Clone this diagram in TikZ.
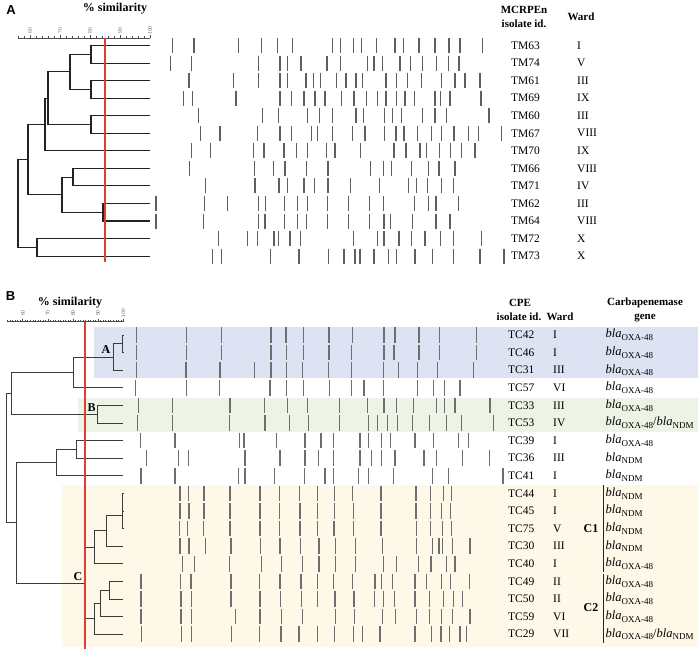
\documentclass[tikz,border=0pt]{standalone}
\usepackage{fontspec}
\setmainfont{Liberation Serif}
\newfontfamily\panelfont{Liberation Sans}
\definecolor{redline}{RGB}{222,62,52}
\definecolor{bgblue}{RGB}{221,227,243}
\definecolor{bggreen}{RGB}{237,244,230}
\definecolor{bgyellow}{RGB}{254,248,233}
\definecolor{bandcol}{RGB}{95,95,95}
\definecolor{bandcolb}{RGB}{110,110,110}
\definecolor{dendcol}{RGB}{35,35,35}
\definecolor{dendcolb}{RGB}{60,60,60}
\newcommand\gsub[1]{\raisebox{-2.8pt}{\fontsize{9}{9}\selectfont #1}}
\newcommand\gbla{{\fontsize{12.5}{13}\selectfont\itshape bla}}
\newcommand\geneO{\gbla\gsub{OXA-48}}
\newcommand\geneN{\gbla\gsub{NDM}}
\newcommand\geneON{\gbla\gsub{OXA-48}{\fontsize{12.5}{13}\selectfont/}\gbla\gsub{NDM}}
\newcommand\brow[3]{\foreach \bx in {#3}{\draw[band] (\bx,#1-#2) -- (\bx,#1+#2);}}
\begin{document}
\begin{tikzpicture}[x=1pt,y=-1pt,
  band/.style={draw=bandcol,line width=1.05pt},
  dend/.style={draw=dendcol,line width=1.05pt},
  redl/.style={draw=redline,line width=1.4pt},
  axisl/.style={draw=black!70,line width=0.5pt},
  ticklbl/.style={font=\fontsize{5.5}{5.5}\selectfont,text=black!60,rotate=90,inner sep=0pt},
  lbl/.style={font=\fontsize{11.5}{12}\selectfont,anchor=west,inner sep=0pt},
  hdr/.style={font=\bfseries\fontsize{11}{11}\selectfont,inner sep=0pt},
  sim/.style={font=\bfseries\fontsize{12}{13}\selectfont,inner sep=0pt},
  panel/.style={font=\panelfont\bfseries\fontsize{13}{13}\selectfont,inner sep=0pt},
  clu/.style={font=\bfseries\fontsize{12}{12}\selectfont,inner sep=0pt}]
\useasboundingbox (0,0) rectangle (698,649);

% ---------------- Panel A ----------------
\node[panel] (pA) at (11,10) {A};
\node[sim] (simA) at (115,8.5) {\% similarity};
\draw[axisl] (18,38) -- (150,38);
\foreach \v in {56,58,...,100} \draw[axisl] ({30+(\v-60)*3},38) -- ++(0,-2);
\foreach \v in {60,70,...,100} {\draw[axisl] ({30+(\v-60)*3},38) -- ++(0,-3.5);
  \node[ticklbl] (tA\v) at ({30+(\v-60)*3},30.5) {\v};}

% bands A
\brow{45.5}{7.5}{172.7,194,238.3,261.7,277.3,292.7,332.7,340.7,353.3,361.7,376.7,395,403.3,419,435,449,460,482.7}
\brow{63.05}{7.5}{170.7,191.7,258.3,280,287.3,301,327,340.7,367.3,374,382.7,400,410.7,422.7,436.7,448.3,459}
\brow{80.6}{7.5}{189,233.3,258.3,280,287.7,306,313.3,320.5,336.7,346,356,362.7,386,396.7,407.3,421.7,441.7,455,465,480}
\brow{98.15}{7.5}{183.3,192.7,236,280,291.7,304,315,325,341.7,354,366.7,377.3,386,396.7,405,414.3,435,440.7,450,481}
\brow{115.7}{7.5}{198.3,262.7,278.3,307.3,319.5,332.7,356,363.3,384.3,392.7,401.7,422.7,435,446.7,489}
\brow{133.25}{7.5}{200.7,220,257.3,280,291.7,311.7,317.7,332.7,352.7,365,384.3,396,404,417.7,431.7,441.7,454,468.3,478.3,501.7}
\brow{150.8}{7.5}{191.7,210.7,253.3,264,284,296.7,307.3,326.5,335,360.7,394,406,420,426.7,439.3,450.7,461.7,475}
\brow{168.35}{7.5}{189.3,254.3,273.3,285,306.7,328,370.7,383.3,391.7,411.7,428.3,439,455}
\brow{185.9}{7.5}{205.7,255,279,287.3,304,314.3,328,350.7,379.3,408.3,416.7,427.3,441.7,453.3}
\brow{203.45}{7.5}{156,204.3,227.3,258.3,265.7,284.3,297.7,307.3,327.3,348.3,369.3,383.3,414.3,428.3,436,458.3}
\brow{221}{7.5}{156,203.3,258.3,265,284.3,297.7,306.7,327.3,348.3,369.3,384,390.7,412.3,436,450}
\brow{238.55}{7.5}{218.3,247.7,257.3,274,278.3,290,300.7,353.3,377.3,384,399,411.7,425,440.7,453.3,481.7}
\brow{256.1}{7.5}{212.7,221.7,270.7,299,328.3,344,355,360,374,388.3,396.7,415,432.7,453.3,480,504}

% dendrogram A
\draw[dend] (150,45.5) -- (91,45.5) -- (91,63.05) -- (150,63.05);
\draw[dend] (150,80.6) -- (91,80.6) -- (91,98.15) -- (150,98.15);
\draw[dend] (91,54.275) -- (70,54.275) -- (70,89.375) -- (91,89.375);
\draw[dend] (150,115.7) -- (91,115.7) -- (91,133.25) -- (150,133.25);
\draw[dend] (70,71.825) -- (48,71.825) -- (48,124.475) -- (91,124.475);
\draw[dend] (48,98.15) -- (45,98.15) -- (45,150.8) -- (150,150.8);
\draw[dend] (150,168.35) -- (73,168.35) -- (73,185.9) -- (150,185.9);
\draw[dend] (150,203.45) -- (103,203.45) -- (103,221) -- (150,221);
\draw[dend] (73,177.125) -- (62,177.125) -- (62,212.225) -- (103,212.225);
\draw[dend] (45,124.475) -- (28,124.475) -- (28,194.675) -- (62,194.675);
\draw[dend] (150,238.55) -- (37,238.55) -- (37,256.1) -- (150,256.1);
\draw[dend] (28,159.575) -- (18,159.575) -- (18,247.325) -- (37,247.325);
\coordinate (rAt) at (105,38);
\coordinate (rAb) at (105,262);
\draw[redl] (rAt) -- (rAb);

% labels A
\node[hdr] (hA1) at (524,10) {MCRPEn};
\node[hdr] (hA2) at (524,24) {isolate id.};
\node[hdr] (hA3) at (581,17) {Ward};
\foreach [count=\i from 0] \id/\w in {TM63/I,TM74/V,TM61/III,TM69/IX,TM60/III,TM67/VIII,TM70/IX,TM66/VIII,TM71/IV,TM62/III,TM64/VIII,TM72/X,TM73/X}{
  \node[lbl] (ia\i) at (511,45.5+17.55*\i) {\id};
  \node[lbl] (wa\i) at (577,45.5+17.55*\i) {\w};}

% ---------------- Panel B ----------------
\fill[bgblue] (94,326.5) rectangle (698,377.5);
\fill[bggreen] (77.7,397.5) rectangle (698,432);
\fill[bgyellow] (61.7,485) rectangle (698,647);

\node[panel] (pB) at (10.5,296) {B};
\node[sim] (simB) at (70,302.5) {\% similarity};
\draw[axisl] (7.6,321.7) -- (123.3,321.7);
\foreach \v in {54,...,100} \draw[axisl] ({22.7+(\v-60)*2.515},321.7) -- ++(0,-1.8);
\foreach \v in {60,70,...,100} {\draw[axisl] ({22.7+(\v-60)*2.515},321.7) -- ++(0,-3);
  \node[ticklbl] (tB\v) at ({22.7+(\v-60)*2.515},313) {\v};}

% bands B
\begin{scope}[band/.append style={draw=bandcolb}]
\brow{335}{7.8}{136.7,186.7,221.7,271,286,303.3,329,352.7,384,395,419,439.3,476.7}
\brow{352.6}{7.8}{136.7,186.7,221.7,271,286.7,303.3,329,351.7,384,394,419,439.3,476.7}
\brow{370.2}{7.8}{136.7,186,220,254.3,271,286.7,302.7,328.3,351.7,383.3,398.3,417.3,437.7,473.3}
\brow{387.8}{7.8}{135.7,186.7,219.3,270,286.7,303.3,329.3,351.7,364,383.3,417.3,433.3,444.3,460}
\brow{405.4}{7.8}{138.3,172.7,230,264.3,287.3,307.3,339.3,367.3,384,396.7,413.3,436.7,444.3,455,490}
\brow{423}{7.8}{137.3,172.7,229.3,265,289.3,308.3,339.3,368.3,377.3,387.3,397.3,412.7,429.3,446.7,461.7,493.3}
\brow{440.6}{7.8}{140.7,175,239.3,244,276.7,305,321,333.3,360,368.3,381.7,390.7,415,433.3,458.3,468.3}
\brow{458.2}{7.8}{146.7,178.3,188.3,245,280,305,318.3,333.3,360,371.7,381.7,395,424,436.7,462.3,489.3}
\brow{475.8}{7.8}{141,175,238.3,245,274.3,304.3,325,333.3,358.3,368.3,393.3,432.7,448.3,503}
\brow{493.4}{7.8}{180,188.3,204,230,260,279.3,299.3,317.7,334.3,352.3,381,416,430.7,443.3,451.7}
\brow{511}{7.8}{180,189,204,230,260,279.3,300,317.7,334.3,353.3,381,416,430.7,441.7,450.7}
\brow{528.6}{7.8}{179.3,187.3,203.3,230,260,279.3,300,317.7,334,353.3,381,416.7,430.7,442.7,451.7}
\brow{546.2}{7.8}{180,189,205.7,231,260.7,280,300.7,319,335.7,355.7,382.7,416.7,432.7,439,442.7,452.3,470}
\brow{563.8}{7.8}{182.7,194.3,229.3,261.7,281.7,302.7,319,335.7,355.7,383.3,396.7,418.3,431,446.7,455}
\brow{581.4}{7.8}{141,180.7,191,231,259.3,280,301,317.3,333.3,352.7,375,381.7,392.7,415,426.7,441.7,450.7,469.3}
\brow{599}{7.8}{141,181,191.7,231,260,280.7,301.7,317.7,335,354,374.3,383.3,394.3,415,429.3,443.3,453.3,462.7}
\brow{616.6}{7.8}{141,181,191.7,235.7,260,281.7,302.7,335.7,354.3,382.7,395.7,416.7,429.3,441.7,452.7,470}
\brow{634.2}{7.8}{141.7,181.7,191.7,231.7,259.3,281,299,317.3,334.3,353.3,362.3,380,415,431.7,441,449.3,460,466.7}
\end{scope}

% dendrogram B
\begin{scope}[dend/.append style={draw=dendcolb,line width=0.95pt}]
\draw[dend] (123.3,335) -- (122.5,335) -- (122.5,352.6) -- (123.3,352.6);
\draw[dend] (122.5,343.8) -- (113.3,343.8) -- (113.3,370.2) -- (123.3,370.2);
\draw[dend] (113.3,357) -- (73.3,357) -- (73.3,387.8) -- (123.3,387.8);
\draw[dend] (123.3,405.4) -- (97.7,405.4) -- (97.7,423) -- (123.3,423);
\draw[dend] (73.3,372.4) -- (11.7,372.4) -- (11.7,414.2) -- (97.7,414.2);
\draw[dend] (123.3,440.6) -- (76,440.6) -- (76,458.2) -- (123.3,458.2);
\draw[dend] (76,449.4) -- (56,449.4) -- (56,475.8) -- (123.3,475.8);
\draw[dend] (123.3,493.4) -- (122.5,493.4) -- (122.5,528.6) -- (123.3,528.6);
\draw[dend] (122.5,511) -- (123.3,511);
\draw[dend] (122.5,515.4) -- (106.7,515.4) -- (106.7,546.2) -- (123.3,546.2);
\draw[dend] (106.7,530.8) -- (94,530.8) -- (94,563.8) -- (123.3,563.8);
\draw[dend] (123.3,581.4) -- (109.3,581.4) -- (109.3,599) -- (123.3,599);
\draw[dend] (109.3,590.2) -- (100,590.2) -- (100,616.6) -- (123.3,616.6);
\draw[dend] (100,603.4) -- (94.3,603.4) -- (94.3,634.2) -- (123.3,634.2);
\draw[dend] (94,547.3) -- (85,547.3) -- (85,618.8) -- (94.3,618.8);
\draw[dend] (56,462.6) -- (16.7,462.6) -- (16.7,583.05) -- (85,583.05);
\draw[dend] (11.7,393.3) -- (6.7,393.3) -- (6.7,522.8) -- (16.7,522.8);
\end{scope}
\coordinate (rBt) at (85,321.7);
\coordinate (rBb) at (85,649);
\draw[redl] (rBt) -- (rBb);
\node[clu] (cA) at (106,350) {A};
\node[clu] (cB) at (91.7,408) {B};
\node[clu] (cC) at (78,577) {C};

% labels B
\node[hdr] (hB1) at (520,303) {CPE};
\node[hdr] (hB2) at (519,317) {isolate id.};
\node[hdr] (hB3) at (560,317) {Ward};
\node[hdr] (hB4) at (645,303) {Carbapenemase};
\node[hdr] (hB5) at (645,318) {gene};
\foreach [count=\i from 0] \id/\w/\g in {TC42/I/O,TC46/I/O,TC31/III/O,TC57/VI/O,TC33/III/O,TC53/IV/ON,TC39/I/O,TC36/III/N,TC41/I/N,TC44/I/N,TC45/I/N,TC75/V/N,TC30/III/N,TC40/I/O,TC49/II/O,TC50/II/O,TC59/VI/O,TC29/VII/ON}{
  \node[lbl] (ib\i) at (508,335+17.6*\i) {\id};
  \node[lbl] (wb\i) at (553,335+17.6*\i) {\w};
  \node[lbl] (gb\i) at (605.5,335+17.6*\i) {\csname gene\g\endcsname};}
\node[clu] (c1) at (591,528.6) {C1};
\node[clu] (c2) at (591,607.8) {C2};
\coordinate (c1t) at (603.5,485);
\coordinate (c1b) at (603.5,572);
\coordinate (c2t) at (603.5,574);
\coordinate (c2b) at (603.5,643);
\draw[dend] (c1t) -- (c1b);
\draw[dend] (c2t) -- (c2b);
\end{tikzpicture}
\end{document}
